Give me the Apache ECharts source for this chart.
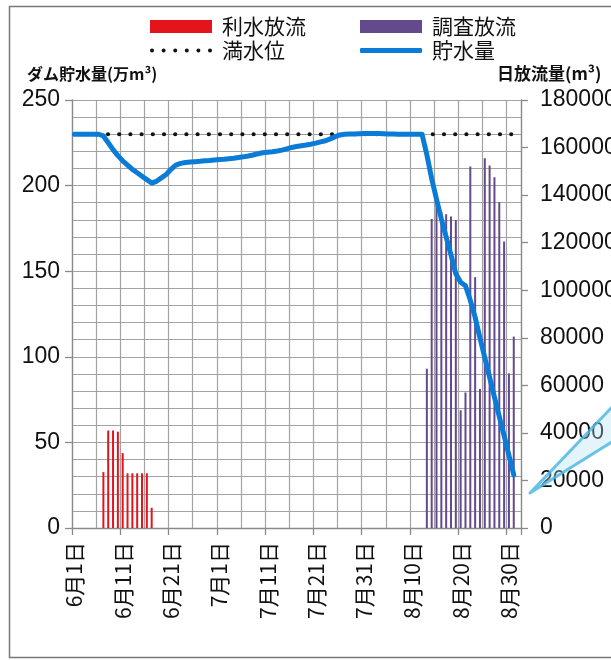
<!DOCTYPE html>
<html>
<head>
<meta charset="utf-8">
<script src="https://cdn.jsdelivr.net/npm/echarts@6/dist/echarts.min.js"></script>
<style>
html,body{margin:0;padding:0;background:#fff;overflow:hidden;width:611px;height:660px;}
#chart{width:611px;height:660px;}
</style>
</head>
<body>
<div id="chart"></div>
<script>
// Categories: daily, 6月1日 .. 9月1日
const categories = [
 '6月1日','6月2日','6月3日','6月4日','6月5日','6月6日','6月7日','6月8日','6月9日','6月10日',
 '6月11日','6月12日','6月13日','6月14日','6月15日','6月16日','6月17日','6月18日','6月19日','6月20日',
 '6月21日','6月22日','6月23日','6月24日','6月25日','6月26日','6月27日','6月28日','6月29日','6月30日',
 '7月1日','7月2日','7月3日','7月4日','7月5日','7月6日','7月7日','7月8日','7月9日','7月10日',
 '7月11日','7月12日','7月13日','7月14日','7月15日','7月16日','7月17日','7月18日','7月19日','7月20日',
 '7月21日','7月22日','7月23日','7月24日','7月25日','7月26日','7月27日','7月28日','7月29日','7月30日',
 '7月31日','8月1日','8月2日','8月3日','8月4日','8月5日','8月6日','8月7日','8月8日','8月9日',
 '8月10日','8月11日','8月12日','8月13日','8月14日','8月15日','8月16日','8月17日','8月18日','8月19日',
 '8月20日','8月21日','8月22日','8月23日','8月24日','8月25日','8月26日','8月27日','8月28日','8月29日',
 '8月30日','8月31日','9月1日'
];

// 貯水量 (万m3), daily from 6月1日
const storage = [
 230,230,230,230,230,230,229,225,221,217.5,
 214.5,212,209.5,207.5,205.5,203.5,201.5,202.5,204.5,206.5,
 209.5,212,213,213.5,213.8,214,214.2,214.5,214.7,215,
 215.2,215.4,215.7,216,216.4,216.8,217.3,217.9,218.6,219.2,
 219.5,219.8,220.2,220.7,221.5,222.3,222.8,223.3,223.7,224.2,
 224.8,225.5,226.2,227.3,228.6,229.6,230,230.2,230.2,230.3,
 230.4,230.5,230.5,230.4,230.3,230.2,230.1,230,230,230,
 230,230,230,218,204,192,180.5,170,159.5,148.5,
 143.5,141.5,133,123,111,99.5,88,76.5,65,54,
 42.5,31
];

// 満水位 (万m3)
const fullLevel = 230;

// 利水放流 (m3/日)
const riyouDays = ['6月7日','6月8日','6月9日','6月10日','6月11日','6月12日','6月13日','6月14日','6月15日','6月16日','6月17日'];
const riyouFlow = [23500,41000,41000,40500,31500,23000,23000,23000,23000,23000,8500];

// 調査放流 (m3/日)
const chousaDays = ['8月13日','8月14日','8月15日','8月16日','8月17日','8月18日','8月19日','8月20日','8月21日','8月22日',
 '8月23日','8月24日','8月25日','8月26日','8月27日','8月28日','8月29日','8月30日','8月31日'];
const chousaFlow = [67000,130000,138000,133000,132000,131000,129500,49500,57000,152000,
 105500,58500,155500,152500,147500,137000,120500,65000,80500];

const leftTicks = {min:0, max:250, interval:50};
const rightTicks = {min:0, max:180000, interval:20000};

const JP = '"Noto Sans CJK JP", sans-serif';
const NUM = '"Liberation Sans", Arial, sans-serif';
const gridColor = '#a3a3a3';
const axisColor = '#8a8a8a';

const chart = echarts.init(document.getElementById('chart'), null, {renderer:'canvas', width: 611, height: 660});

const legendBase = {
  padding: 0, itemGap: 0, itemWidth: 62, itemHeight: 13,
  textStyle: {fontSize: 21, fontFamily: JP, color: '#111', padding: [0,0,0,5]},
  selectedMode: false
};

// six round dots for the 満水位 legend icon
const dotIcon = 'path://M0,2a2,2 0 1,0 4,0a2,2 0 1,0 -4,0Z' +
  'M11.6,2a2,2 0 1,0 4,0a2,2 0 1,0 -4,0Z' +
  'M23.2,2a2,2 0 1,0 4,0a2,2 0 1,0 -4,0Z' +
  'M34.8,2a2,2 0 1,0 4,0a2,2 0 1,0 -4,0Z' +
  'M46.4,2a2,2 0 1,0 4,0a2,2 0 1,0 -4,0Z' +
  'M58,2a2,2 0 1,0 4,0a2,2 0 1,0 -4,0Z';

const option = {
  backgroundColor: '#fff',
  animation: false,
  legend: [
    Object.assign({}, legendBase, {data: [{name:'利水放流', icon:'rect'}], left: 150, top: 16}),
    Object.assign({}, legendBase, {data: [{name:'調査放流', icon:'rect'}], left: 360, top: 16}),
    Object.assign({}, legendBase, {data: [{name:'満水位', icon: dotIcon}], left: 150, top: 40, itemHeight: 4}),
    Object.assign({}, legendBase, {data: [{name:'貯水量', icon:'roundRect'}], left: 360, top: 40, itemHeight: 5})
  ],
  grid: {left: 72, right: 90, top: 100, bottom: 132, containLabel: false, outerBoundsMode: 'none'},
  xAxis: {
    type: 'category',
    data: categories,
    boundaryGap: true,
    axisLine: {show: true, lineStyle: {color: axisColor, width: 1.3}},
    axisTick: {show: true, interval: 9, length: 7, lineStyle: {color: axisColor, width: 1.3}},
    axisLabel: {interval: 9, rotate: 90, fontSize: 21, fontFamily: JP, color: '#111', margin: 14},
    splitLine: {show: true, interval: 4, lineStyle: {color: gridColor, width: 1.2}}
  },
  yAxis: [
    {
      type: 'value', position: 'left',
      min: leftTicks.min, max: leftTicks.max, interval: leftTicks.interval,
      axisLine: {show: true, lineStyle: {color: axisColor, width: 1.3}},
      axisTick: {show: true, length: 7, lineStyle: {color: axisColor, width: 1.3}},
      axisLabel: {fontSize: 23, fontFamily: NUM, color: '#111', margin: 12, formatter: v => String(v)},
      splitLine: {show: true, lineStyle: {color: gridColor, width: 1.2}},
      minorTick: {show: false, splitNumber: 5},
      minorSplitLine: {show: true, lineStyle: {color: gridColor, width: 1.2}}
    },
    {
      type: 'value', position: 'right',
      min: rightTicks.min, max: rightTicks.max, interval: rightTicks.interval,
      axisLine: {show: true, lineStyle: {color: axisColor, width: 1.3}},
      axisTick: {show: true, length: 7, lineStyle: {color: axisColor, width: 1.3}},
      axisLabel: {fontSize: 23, fontFamily: NUM, color: '#111', margin: 19, formatter: v => String(v)},
      splitLine: {show: false}
    }
  ],
  series: [
    {
      name: '利水放流', type: 'bar', yAxisIndex: 1, barWidth: 2, barGap: '-100%',
      itemStyle: {color: '#e3141c'},
      data: riyouDays.map((d, i) => [d, riyouFlow[i]]),
      z: 2
    },
    {
      name: '調査放流', type: 'bar', yAxisIndex: 1, barWidth: 2, barGap: '-100%',
      itemStyle: {color: '#634a8c'},
      data: chousaDays.map((d, i) => [d, chousaFlow[i]]),
      z: 2
    },
    {
      name: '満水位', type: 'line', yAxisIndex: 0, symbol: 'none',
      lineStyle: {color: '#111', width: 4.2, type: [0, 11.2], cap: 'round'},
      itemStyle: {color: '#111'},
      data: categories.map(() => fullLevel),
      z: 3
    },
    {
      name: '貯水量', type: 'line', yAxisIndex: 0, symbol: 'none',
      lineStyle: {color: '#0b7bd8', width: 5, cap: 'round', join: 'round'},
      itemStyle: {color: '#0b7bd8'},
      data: storage,
      z: 4
    }
  ],
  graphic: [
    {type: 'rect', left: 7, top: 4, z: -1, silent: true,
      shape: {width: 700, height: 651},
      style: {fill: 'none', stroke: '#7a7a7a', lineWidth: 1.5}},
    {type: 'text', left: 27, top: 66, silent: true,
      style: {text: 'ダム貯水量(万m³)', font: 'bold 16px ' + JP, fill: '#111'}},
    {type: 'text', left: 497, top: 65, silent: true,
      style: {text: '日放流量(m³)', font: 'bold 17px ' + JP, fill: '#111'}},
    {type: 'polygon', silent: true, z: 10,
      shape: {points: [[530, 493], [615, 404], [615, 440]]},
      style: {fill: 'rgba(175,225,242,0.35)', stroke: 'rgba(80,185,225,0.85)', lineWidth: 3, lineJoin: 'round'}}
  ]
};

chart.setOption(option);
</script>
</body>
</html>
